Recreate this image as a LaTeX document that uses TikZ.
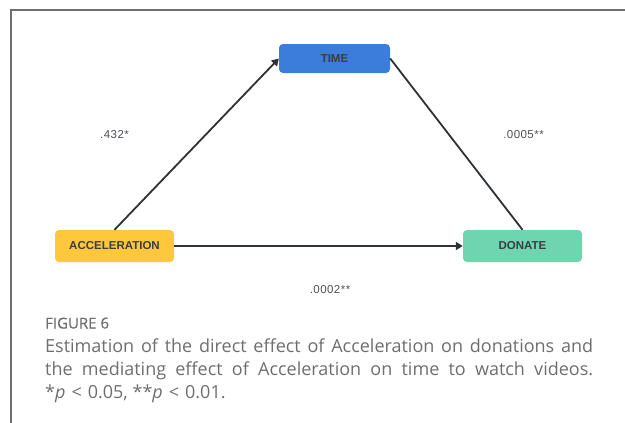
\documentclass[tikz,border=0pt]{standalone}
\usepackage{fontspec}
\setmainfont{Open Sans}
\setsansfont{Liberation Sans}
\newfontfamily\coeffont[LetterSpace=4]{Liberation Sans}
\newfontfamily\figfont[FakeBold=0.6]{Open Sans}
\usetikzlibrary{arrows.meta}
\definecolor{cBlue}{HTML}{3C7DDC}
\definecolor{cYellow}{HTML}{FFC83C}
\definecolor{cGreen}{HTML}{6FD4B0}
\definecolor{cText}{HTML}{3A3D42}
\definecolor{cLine}{HTML}{2E3135}
\definecolor{cCap}{HTML}{6E6E6E}

\begin{document}
\begin{tikzpicture}[
  x=1pt, y=-1pt,
  every node/.style={font=\sffamily},
  box/.style={rounded corners=4pt, inner sep=0pt, text=cText, font=\sffamily\bfseries\fontsize{11.5}{13}\selectfont},
  coef/.style={text=cText!90, font=\coeffont\fontsize{11.5}{13}\selectfont},
  link/.style={draw=cLine, line width=1.8pt},
]

\useasboundingbox (0,0) rectangle (625,423);
\draw[cCap, line width=1.4pt] (11,423) -- (11,10) -- (625,10);

\node[box, fill=cBlue, minimum width=111, minimum height=29] (time) at (334.5,58.5) {TIME};
\node[box, fill=cYellow, minimum width=119, minimum height=32] (accel) at (114.5,246) {ACCELERATION};
\node[box, fill=cGreen, minimum width=119, minimum height=32] (donate) at (522.5,246) {DONATE};

\draw[link, -{Triangle[length=7pt, width=8pt]}] (accel.north) -- (time.west);
\draw[link] (time.east) -- (donate.north);
\draw[link, -{Triangle[length=7pt, width=8pt]}] (accel.east) -- (donate.west);

\node[coef] (c1) at (114.5,135) {.432*};
\node[coef] (c2) at (523.5,135) {.0005**};
\node[coef] (c3) at (330,290) {.0002**};

\node[anchor=base west, inner sep=0pt, text=cCap, font=\figfont\fontsize{15}{17}\selectfont] (fig) at (45,328.5) {FIGURE 6};
\node[anchor=north west, inner sep=0pt, text=cCap, text width=548, align=justify,
      font=\rmfamily\fontsize{18}{22.7}\selectfont] (cap) at (45,339)
  {Estimation of the direct effect of Acceleration on donations and\linebreak
   the mediating effect of Acceleration on time to watch videos.\linebreak
   *\textit{p}\,\,<\,\,0.05, **\textit{p}\,\,<\,\,0.01.};

\end{tikzpicture}
\end{document}
